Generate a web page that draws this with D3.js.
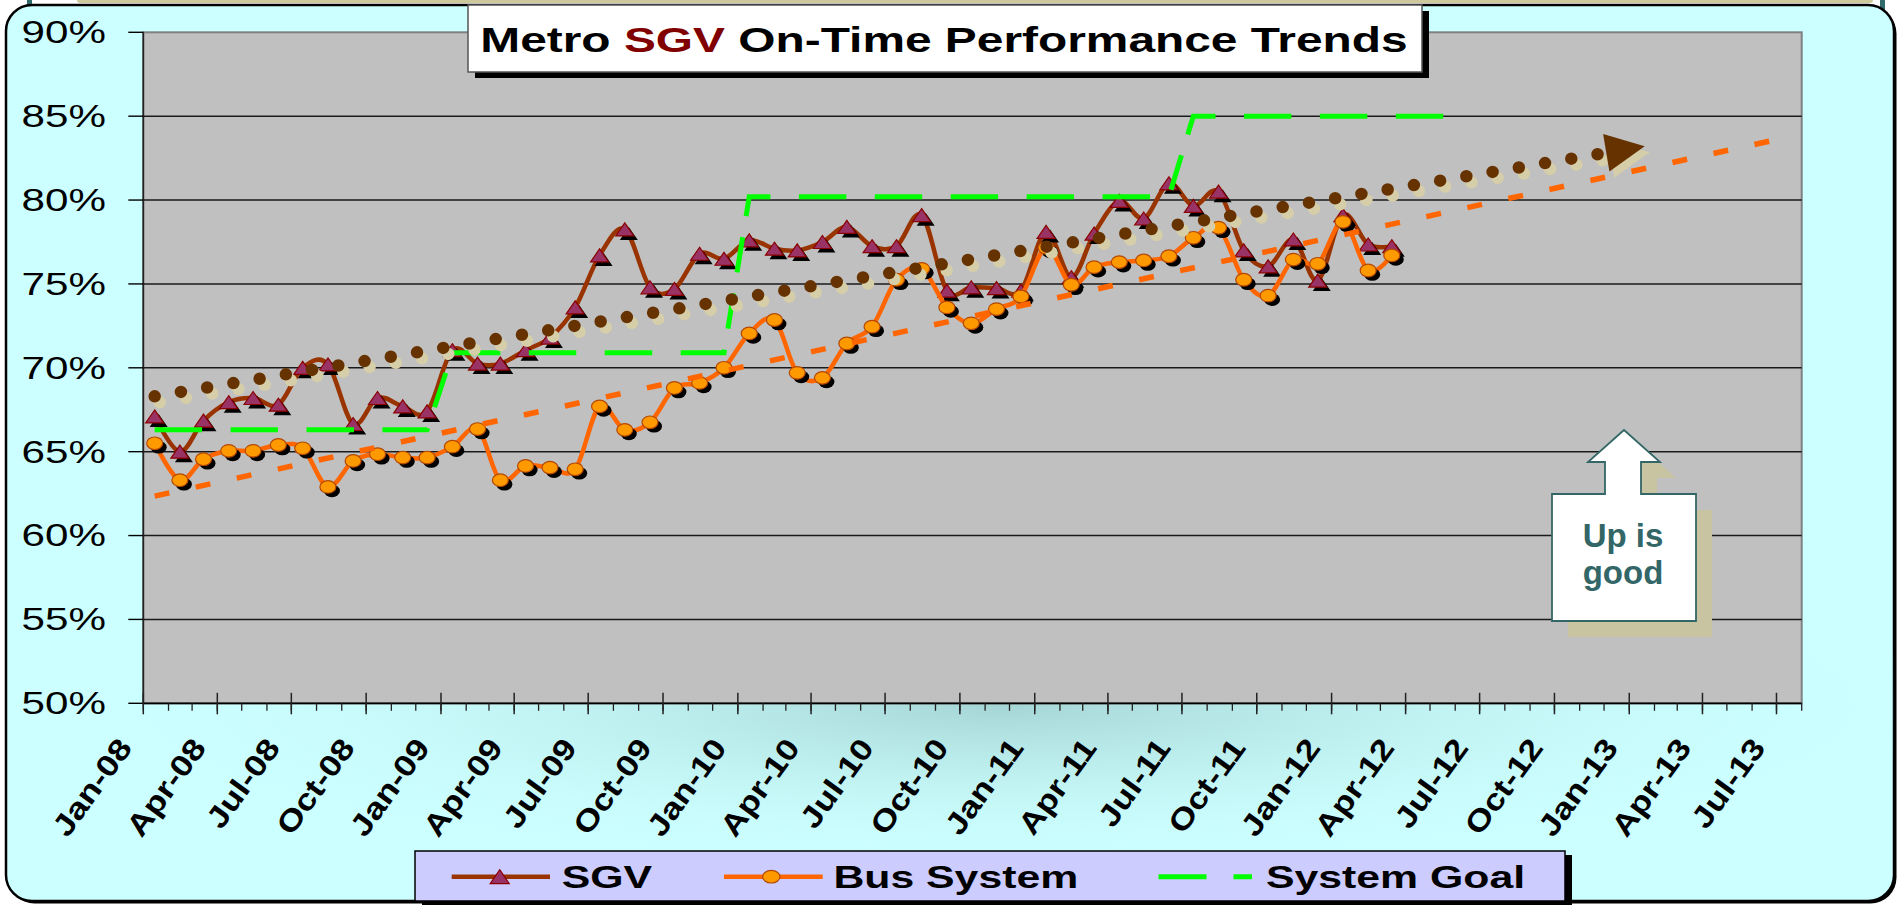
<!DOCTYPE html>
<html>
<head>
<meta charset="utf-8">
<script src="https://cdn.jsdelivr.net/npm/d3@7"></script>
<style>
  html, body { margin: 0; padding: 0; background: #fff; }
  svg { display: block; }
  text { font-family: "Liberation Sans", Arial, sans-serif; }
</style>
</head>
<body>
<div id="chart"></div>
<script>
// months on the chart (goal runs to Jun-12, the two measured series stop at Mar-12)
var months = [
  "Jan-08","Feb-08","Mar-08","Apr-08","May-08","Jun-08","Jul-08","Aug-08","Sep-08","Oct-08","Nov-08","Dec-08",
  "Jan-09","Feb-09","Mar-09","Apr-09","May-09","Jun-09","Jul-09","Aug-09","Sep-09","Oct-09","Nov-09","Dec-09",
  "Jan-10","Feb-10","Mar-10","Apr-10","May-10","Jun-10","Jul-10","Aug-10","Sep-10","Oct-10","Nov-10","Dec-10",
  "Jan-11","Feb-11","Mar-11","Apr-11","May-11","Jun-11","Jul-11","Aug-11","Sep-11","Oct-11","Nov-11","Dec-11",
  "Jan-12","Feb-12","Mar-12","Apr-12","May-12","Jun-12"
];

var sgv = [
  67.1, 65.0, 66.85, 67.95, 68.2, 67.8, 70.0, 70.2, 66.65, 68.2, 67.7, 67.4,
  71.05, 70.25, 70.25, 71.05, 71.8, 73.6, 76.7, 78.25, 74.8, 74.7, 76.8, 76.5,
  77.6, 77.1, 77.0, 77.5, 78.4, 77.25, 77.25, 79.1, 74.6, 74.8, 74.75, 74.6,
  78.1, 75.4, 78.0, 79.95, 78.9, 81.0, 79.65, 80.5, 77.0, 76.05, 77.65, 75.2,
  79.1, 77.35, 77.25
];

var bus = [
  65.5, 63.3, 64.55, 65.05, 65.05, 65.4, 65.2, 62.9, 64.45, 64.85, 64.65, 64.65,
  65.3, 66.35, 63.3, 64.15, 64.05, 63.95, 67.7, 66.3, 66.75, 68.8, 69.1, 70.0,
  72.05, 72.85, 69.7, 69.4, 71.45, 72.45, 75.25, 75.9, 73.6, 72.65, 73.5, 74.25,
  77.15, 74.95, 76.0, 76.3, 76.4, 76.65, 77.75, 78.35, 75.25, 74.3, 76.45, 76.2,
  78.7, 75.8, 76.7
];

var goal = [
  66.3, 66.3, 66.3, 66.3, 66.3, 66.3, 66.3, 66.3, 66.3, 66.3, 66.3, 66.3,
  70.9, 70.9, 70.9, 70.9, 70.9, 70.9, 70.9, 70.9, 70.9, 70.9, 70.9, 70.9,
  80.2, 80.2, 80.2, 80.2, 80.2, 80.2, 80.2, 80.2, 80.2, 80.2, 80.2, 80.2,
  80.2, 80.2, 80.2, 80.2, 80.2, 80.2, 85.0, 85.0, 85.0, 85.0, 85.0, 85.0,
  85.0, 85.0, 85.0, 85.0, 85.0, 85.0
];

// trend lines as drawn (start / end of each, forecast forward)
var sgvTrendDates = ["2008-01-15", "2013-01-20"];
var sgvTrend = [68.3, 83.2];
var busTrendDates = ["2008-01-15", "2013-06-26"];
var busTrend = [62.35, 83.55];

var xTickLabels = ["Jan-08","Apr-08","Jul-08","Oct-08","Jan-09","Apr-09","Jul-09","Oct-09",
  "Jan-10","Apr-10","Jul-10","Oct-10","Jan-11","Apr-11","Jul-11","Oct-11",
  "Jan-12","Apr-12","Jul-12","Oct-12","Jan-13","Apr-13","Jul-13"];
var yTicks = [50, 55, 60, 65, 70, 75, 80, 85, 90];

var seriesNames = ["SGV", "Bus System", "System Goal"];

var W = 1898, H = 906;
var plot = {left: 143.3, right: 1801.7, top: 32.3, bottom: 703.3};

var parseMonth = d3.timeParse("%b-%y");
var parseDay = d3.timeParse("%Y-%m-%d");
var midMonth = m => d3.timeDay.offset(parseMonth(m), 14);

var x = d3.scaleTime()
    .domain([new Date(2008, 0, 1), new Date(2013, 7, 1)])
    .range([plot.left, plot.right]);
var y = d3.scaleLinear()
    .domain([50, 90])
    .range([plot.bottom, plot.top]);

// the original chart was stretched sideways, so its dash pattern runs
// shorter on steep segments; walk the polyline and cut the dashes by hand
function dashPath(pts, dash, gap, k) {
    var period = dash + gap, phase = 0, d = "", drawing = false;
    for (var i = 1; i < pts.length; i++) {
        var a = pts[i - 1], b = pts[i];
        var L = Math.hypot(b[0] - a[0], k * (b[1] - a[1]));
        var t = 0;
        while (t < L - 1e-6) {
            var on = phase < dash;
            var step = Math.min((on ? dash : period) - phase, L - t);
            if (on) {
                var f0 = t / L, f1 = (t + step) / L;
                var s = [a[0] + (b[0] - a[0]) * f0, a[1] + (b[1] - a[1]) * f0];
                var e = [a[0] + (b[0] - a[0]) * f1, a[1] + (b[1] - a[1]) * f1];
                d += (drawing ? "" : "M" + s[0] + "," + s[1]) + "L" + e[0] + "," + e[1];
            }
            drawing = on;
            t += step;
            phase += step;
            if (phase >= period - 1e-6) phase = 0;
        }
    }
    return d;
}

var svg = d3.select("#chart").append("svg")
    .attr("width", W)
    .attr("height", H);

var defs = svg.append("defs");
var floor = defs.append("radialGradient").attr("id", "floor");
floor.append("stop").attr("offset", "0%").attr("stop-color", "#a6d5d5").attr("stop-opacity", 1);
floor.append("stop").attr("offset", "100%").attr("stop-color", "#ccffff").attr("stop-opacity", 0);
defs.append("clipPath").attr("id", "frameClip")
  .append("rect").attr("x", 6).attr("y", 5).attr("width", 1888).attr("height", 896).attr("rx", 26);

// bits of the slide peeking out at the top
svg.append("rect").attr("x", 77).attr("y", -4).attr("width", 1796).attr("height", 7).attr("rx", 3).attr("fill", "#cdc99c");
svg.append("rect").attr("x", 27).attr("y", 0).attr("width", 5).attr("height", 6).attr("fill", "#2f6b6b");
svg.append("rect").attr("x", 1880).attr("y", 0).attr("width", 5).attr("height", 13).attr("fill", "#2f6b6b");

// outer rounded frame
svg.append("rect").attr("x", 8.5).attr("y", 7.5).attr("width", 1888).attr("height", 896).attr("rx", 26).attr("fill", "#000");
svg.append("rect").attr("x", 6).attr("y", 5).attr("width", 1888).attr("height", 896).attr("rx", 26)
    .attr("fill", "#ccffff").attr("stroke", "#000").attr("stroke-width", 2.5);
svg.append("g").attr("clip-path", "url(#frameClip)")
  .append("ellipse")
    .attr("cx", 1000).attr("cy", 705).attr("rx", 950).attr("ry", 170)
    .attr("fill", "url(#floor)");

// plot area
svg.append("rect")
    .attr("x", plot.left).attr("y", plot.top)
    .attr("width", plot.right - plot.left).attr("height", plot.bottom - plot.top)
    .attr("fill", "#c0c0c0").attr("stroke", "#808080").attr("stroke-width", 2);

svg.append("g").selectAll("line")
  .data(yTicks.filter(t => t > 50 && t < 90))
  .join("line")
    .attr("x1", plot.left).attr("x2", plot.right)
    .attr("y1", d => y(d)).attr("y2", d => y(d))
    .attr("stroke", "#1a1a1a").attr("stroke-width", 1.4);

// axes lines
svg.append("line").attr("x1", plot.left).attr("x2", plot.left).attr("y1", plot.top).attr("y2", plot.bottom)
    .attr("stroke", "#222").attr("stroke-width", 1.6);
svg.append("line").attr("x1", plot.left).attr("x2", plot.right).attr("y1", plot.bottom).attr("y2", plot.bottom)
    .attr("stroke", "#000").attr("stroke-width", 1.8);

// y ticks + labels
svg.append("g").selectAll("line")
  .data(yTicks)
  .join("line")
    .attr("x1", plot.left - 15).attr("x2", plot.left)
    .attr("y1", d => y(d)).attr("y2", d => y(d))
    .attr("stroke", "#000").attr("stroke-width", 1.4);

svg.append("g").selectAll("g")
  .data(yTicks)
  .join("g")
    .attr("transform", d => `translate(106,${y(d)}) scale(1.36,1)`)
  .append("text")
    .attr("text-anchor", "end")
    .attr("dy", "0.35em")
    .attr("font-size", 31)
    .attr("fill", "#000")
    .text(d => d + "%");

// x ticks: monthly minor, quarterly major crossing the axis
var minorTicks = d3.timeMonth.range(new Date(2008, 0, 1), new Date(2013, 7, 2));
svg.append("g").selectAll("line")
  .data(minorTicks)
  .join("line")
    .attr("x1", d => x(d)).attr("x2", d => x(d))
    .attr("y1", plot.bottom).attr("y2", plot.bottom + 7.5)
    .attr("stroke", "#222").attr("stroke-width", 1.3);

var majorTicks = xTickLabels.map(parseMonth);
svg.append("g").selectAll("line")
  .data(majorTicks)
  .join("line")
    .attr("x1", d => x(d)).attr("x2", d => x(d))
    .attr("y1", plot.bottom - 10.5).attr("y2", plot.bottom + 11)
    .attr("stroke", "#222").attr("stroke-width", 1.5);

svg.append("g").selectAll("g")
  .data(xTickLabels)
  .join("g")
    .attr("transform", d => `translate(${x(parseMonth(d)) - 10},748) rotate(-54) scale(1.18,1)`)
  .append("text")
    .attr("text-anchor", "end")
    .attr("font-size", 30)
    .attr("font-weight", "bold")
    .attr("fill", "#000")
    .text(d => d);

// data
var sgvData = sgv.map((v, i) => ({date: midMonth(months[i]), v: v}));
var busData = bus.map((v, i) => ({date: midMonth(months[i]), v: v}));
var goalData = goal.map((v, i) => ({date: midMonth(months[i]), v: v}));

var smooth = d3.line()
    .x(d => x(d.date))
    .y(d => y(d.v))
    .curve(d3.curveCardinal.tension(0));
var straight = d3.line()
    .x(d => x(d.date))
    .y(d => y(d.v));

var triPath = "M0,-6.5L9,6.5L-9,6.5Z";

// SGV
svg.append("path")
    .attr("d", smooth(sgvData))
    .attr("fill", "none").attr("stroke", "#993300").attr("stroke-width", 4.5);
svg.append("g").selectAll("path")
  .data(sgvData)
  .join("path")
    .attr("d", triPath)
    .attr("transform", d => `translate(${x(d.date) + 4},${y(d.v) + 4})`)
    .attr("fill", "#000");
svg.append("g").selectAll("path")
  .data(sgvData)
  .join("path")
    .attr("d", triPath)
    .attr("transform", d => `translate(${x(d.date)},${y(d.v)})`)
    .attr("fill", "#993366").attr("stroke", "#8b0000").attr("stroke-width", 1.2);

// Bus System
svg.append("path")
    .attr("d", smooth(busData))
    .attr("fill", "none").attr("stroke", "#ff6600").attr("stroke-width", 4.5);
svg.append("g").selectAll("ellipse")
  .data(busData)
  .join("ellipse")
    .attr("cx", d => x(d.date) + 4).attr("cy", d => y(d.v) + 4)
    .attr("rx", 8).attr("ry", 6.3)
    .attr("fill", "#000");
svg.append("g").selectAll("ellipse")
  .data(busData)
  .join("ellipse")
    .attr("cx", d => x(d.date)).attr("cy", d => y(d.v))
    .attr("rx", 8).attr("ry", 6.3)
    .attr("fill", "#ff9900").attr("stroke", "#b34700").attr("stroke-width", 1.2);

// System Goal
var goalPts = goalData.map(d => [x(d.date), y(d.v)]);
svg.append("path")
    .attr("d", dashPath(goalPts, 47.4, 28.5, 1.34))
    .attr("fill", "none").attr("stroke", "#00ff00").attr("stroke-width", 5);

// Bus trend (dashed)
var busTrendData = busTrendDates.map((d, i) => ({date: parseDay(d), v: busTrend[i]}));
svg.append("path")
    .attr("d", straight(busTrendData))
    .attr("fill", "none").attr("stroke", "#ff6600").attr("stroke-width", 5.5)
    .attr("stroke-dasharray", "15,27");

// SGV trend (round dots + arrow)
var sgvTrendData = sgvTrendDates.map((d, i) => ({date: parseDay(d), v: sgvTrend[i]}));
var p0 = [x(sgvTrendData[0].date), y(sgvTrendData[0].v)];
var tip = [x(sgvTrendData[1].date), y(sgvTrendData[1].v)];
var len = Math.hypot(tip[0] - p0[0], tip[1] - p0[1]);
var ux = (tip[0] - p0[0]) / len, uy = (tip[1] - p0[1]) / len;
var base = [tip[0] - 39 * ux, tip[1] - 39 * uy];
var head = [tip, [base[0] - 19 * uy, base[1] + 19 * ux], [base[0] + 19 * uy, base[1] - 19 * ux]];

var dotted = g => g
    .attr("d", d3.line()([p0, base]))
    .attr("fill", "none")
    .attr("stroke-width", 12.5)
    .attr("stroke-linecap", "round")
    .attr("stroke-dasharray", "0,26.6");

svg.append("path").call(dotted).attr("stroke", "#d6cea8").attr("transform", "translate(5,6)");
svg.append("polygon").attr("points", head.join(" ")).attr("fill", "#d6cea8").attr("transform", "translate(5,6)");
svg.append("path").call(dotted).attr("stroke", "#663300");
svg.append("polygon").attr("points", head.join(" ")).attr("fill", "#663300");

// title box
svg.append("rect").attr("x", 475).attr("y", 11).attr("width", 954).attr("height", 67).attr("fill", "#000");
svg.append("rect").attr("x", 468).attr("y", 5).attr("width", 954).attr("height", 67)
    .attr("fill", "#fff").attr("stroke", "#555").attr("stroke-width", 1.5);
var title = svg.append("g").attr("transform", "translate(944,52) scale(1.368,1)")
  .append("text")
    .attr("text-anchor", "middle")
    .attr("font-size", 35)
    .attr("font-weight", "bold")
    .attr("fill", "#000");
title.append("tspan").text("Metro ");
title.append("tspan").attr("fill", "#800000").text("SGV");
title.append("tspan").text(" On-Time Performance Trends");

// "Up is good" callout
var callout = "M1552,494H1605V462H1588L1624,430L1660,462H1641V494H1696V621H1552Z";
svg.append("path").attr("d", callout).attr("fill", "#c8c4a2").attr("transform", "translate(16,16)");
svg.append("path").attr("d", callout).attr("fill", "#fff").attr("stroke", "#336666").attr("stroke-width", 1.8);
svg.append("text").attr("x", 1623).attr("y", 546.7)
    .attr("text-anchor", "middle").attr("font-family", "'Open Sans', sans-serif")
    .attr("font-size", 33).attr("font-weight", 700).attr("fill", "#336666")
    .text("Up is");
svg.append("text").attr("x", 1623).attr("y", 584)
    .attr("text-anchor", "middle").attr("font-family", "'Open Sans', sans-serif")
    .attr("font-size", 33).attr("font-weight", 700).attr("fill", "#336666")
    .text("good");

// legend
var legend = svg.append("g");
legend.append("rect").attr("x", 422).attr("y", 855).attr("width", 1150).attr("height", 50).attr("fill", "#000");
legend.append("rect").attr("x", 415).attr("y", 851).attr("width", 1150).attr("height", 50)
    .attr("fill", "#ccccff").attr("stroke", "#000").attr("stroke-width", 1.5);

var ly = 876.7;
legend.append("line").attr("x1", 451.7).attr("x2", 550).attr("y1", ly).attr("y2", ly)
    .attr("stroke", "#993300").attr("stroke-width", 4.5);
legend.append("path").attr("d", "M0,-7L9.5,7L-9.5,7Z").attr("transform", `translate(499.7,${ly})`)
    .attr("fill", "#993366").attr("stroke", "#8b0000").attr("stroke-width", 1.2);
legend.append("line").attr("x1", 724).attr("x2", 822.7).attr("y1", ly).attr("y2", ly)
    .attr("stroke", "#ff6600").attr("stroke-width", 4.5);
legend.append("ellipse").attr("cx", 771.3).attr("cy", ly).attr("rx", 8.7).attr("ry", 6.3)
    .attr("fill", "#ff9900").attr("stroke", "#b34700").attr("stroke-width", 1.2);
legend.append("line").attr("x1", 1158.5).attr("x2", 1252).attr("y1", ly).attr("y2", ly)
    .attr("stroke", "#00ff00").attr("stroke-width", 5).attr("stroke-dasharray", "48,27");

legend.selectAll("g.item")
  .data(seriesNames)
  .join("g")
    .attr("class", "item")
    .attr("transform", (d, i) => `translate(${[561.7, 833.4, 1266][i]},888.3) scale(1.38,1)`)
  .append("text")
    .attr("font-size", 31)
    .attr("font-weight", "bold")
    .attr("fill", "#000")
    .text(d => d);
</script>
</body>
</html>
